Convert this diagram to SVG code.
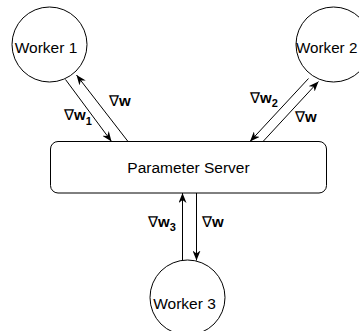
<svg xmlns="http://www.w3.org/2000/svg" width="359" height="331" viewBox="0 0 359 331">
<style>
.node{fill:#fff;stroke:#000;stroke-width:1}
.lbl{font-family:"Liberation Sans",Arial,sans-serif;font-size:15.5px;fill:#000}
.edge{stroke:#000;stroke-width:1;fill:none;marker-end:url(#arr)}
.g{font-family:"Liberation Sans",Arial,sans-serif;font-size:15px;fill:#000}
.b{font-weight:bold}
.s{font-weight:bold;font-size:11px}
</style>
<defs>
<marker id="arr" viewBox="0 0 10 8" refX="10" refY="4" markerWidth="10" markerHeight="8" markerUnits="userSpaceOnUse" orient="auto">
<path d="M0,0 L10,4 L0,8 L3,4 Z" fill="#000"/>
</marker>
</defs>
<rect width="359" height="331" fill="#fff"/>
<g id="connectors">
<line class="edge" x1="65.5" y1="79.5" x2="111.5" y2="141.5"/>
<line class="edge" x1="128" y1="141.5" x2="76.5" y2="75"/>
<line class="edge" x1="308.5" y1="78.5" x2="250" y2="141.5"/>
<line class="edge" x1="263" y1="141.5" x2="318.5" y2="81.5"/>
<line class="edge" x1="182.5" y1="260.5" x2="182.5" y2="193"/>
<line class="edge" x1="196.5" y1="193" x2="196.5" y2="260.5"/>
<text class="g" x="64" y="120"><tspan>∇</tspan><tspan class="b">w</tspan><tspan class="s" dy="5">1</tspan></text>
<text class="g" x="109" y="105.5"><tspan>∇</tspan><tspan class="b">w</tspan></text>
<text class="g" x="250" y="102.5"><tspan>∇</tspan><tspan class="b">w</tspan><tspan class="s" dy="4.5">2</tspan></text>
<text class="g" x="295" y="122"><tspan>∇</tspan><tspan class="b">w</tspan></text>
<text class="g" x="148" y="227"><tspan>∇</tspan><tspan class="b">w</tspan><tspan class="s" dy="4">3</tspan></text>
<text class="g" x="202" y="227"><tspan>∇</tspan><tspan class="b">w</tspan></text>
</g>
<g id="worker1">
<circle class="node" cx="49.5" cy="44.5" r="37.5"/>
<text class="lbl" x="46" y="52.5" text-anchor="middle">Worker 1</text>
</g>
<g id="worker2">
<circle class="node" cx="333.5" cy="44.5" r="37.5"/>
<text class="lbl" x="296" y="52.5" style="font-size:15.2px">Worker 2</text>
</g>
<g id="server">
<rect class="node" x="50.5" y="141.5" width="276" height="51.5" rx="7.5"/>
<text class="lbl" x="188.5" y="173" text-anchor="middle">Parameter Server</text>
</g>
<g id="worker3">
<circle class="node" cx="187.5" cy="297.5" r="37.5"/>
<text class="lbl" x="184.5" y="309" text-anchor="middle">Worker 3</text>
</g>
</svg>
